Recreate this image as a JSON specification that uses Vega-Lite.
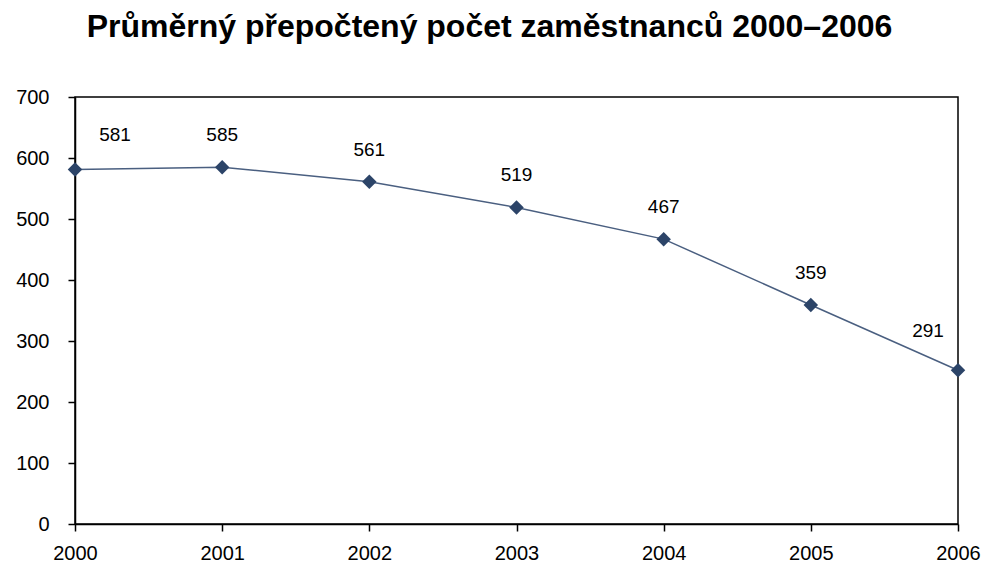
{
  "$schema": "https://vega.github.io/schema/vega-lite/v6.json",
  "width": 883,
  "height": 427,
  "padding": {"left": 75, "top": 97, "right": 23, "bottom": 40},
  "autosize": {"type": "none"},
  "background": "white",
  "title": {
    "text": "Průměrný přepočtený počet zaměstnanců 2000–2006",
    "font": "Liberation Sans",
    "fontSize": 32,
    "fontWeight": "bold",
    "color": "#000000",
    "anchor": "middle",
    "offset": 43,
    "dx": -27
  },
  "config": {
    "view": {"stroke": "#000000", "strokeWidth": 1.5},
    "axis": {
      "labelFont": "Liberation Sans",
      "labelFontSize": 20,
      "labelColor": "#000000",
      "domainColor": "#000000",
      "domainWidth": 1.5,
      "tickColor": "#000000",
      "tickWidth": 1.5,
      "tickSize": 7,
      "grid": false,
      "title": null
    }
  },
  "data": {
    "values": [
      {"rok": 2000, "pocet": 581, "popisek": "581"},
      {"rok": 2001, "pocet": 585, "popisek": "585"},
      {"rok": 2002, "pocet": 561, "popisek": "561"},
      {"rok": 2003, "pocet": 519, "popisek": "519"},
      {"rok": 2004, "pocet": 467, "popisek": "467"},
      {"rok": 2005, "pocet": 359, "popisek": "359"},
      {"rok": 2006, "pocet": 252, "popisek": "291"}
    ]
  },
  "encoding": {
    "x": {
      "field": "rok",
      "type": "quantitative",
      "scale": {"domain": [2000, 2006], "nice": false, "zero": false},
      "axis": {"format": "d", "values": [2000, 2001, 2002, 2003, 2004, 2005, 2006], "labelPadding": 12, "labelFlush": false}
    },
    "y": {
      "field": "pocet",
      "type": "quantitative",
      "scale": {"domain": [0, 700], "nice": false},
      "axis": {"values": [0, 100, 200, 300, 400, 500, 600, 700], "labelPadding": 19}
    }
  },
  "layer": [
    {
      "mark": {"type": "line", "color": "#4a5f80", "strokeWidth": 1.5}
    },
    {
      "mark": {"type": "point", "shape": "diamond", "filled": true, "size": 210, "color": "#2c4468", "opacity": 1}
    },
    {
      "transform": [{"filter": "datum.rok > 2000 && datum.rok < 2006"}],
      "mark": {"type": "text", "font": "Liberation Sans", "fontSize": 19, "color": "#000000", "dy": -32},
      "encoding": {"text": {"field": "popisek"}}
    },
    {
      "transform": [{"filter": "datum.rok == 2000"}],
      "mark": {"type": "text", "font": "Liberation Sans", "fontSize": 19, "color": "#000000", "dy": -35, "dx": 40},
      "encoding": {"text": {"field": "popisek"}}
    },
    {
      "transform": [{"filter": "datum.rok == 2006"}],
      "mark": {"type": "text", "font": "Liberation Sans", "fontSize": 19, "color": "#000000", "dy": -39, "dx": -30},
      "encoding": {"text": {"field": "popisek"}}
    }
  ]
}
